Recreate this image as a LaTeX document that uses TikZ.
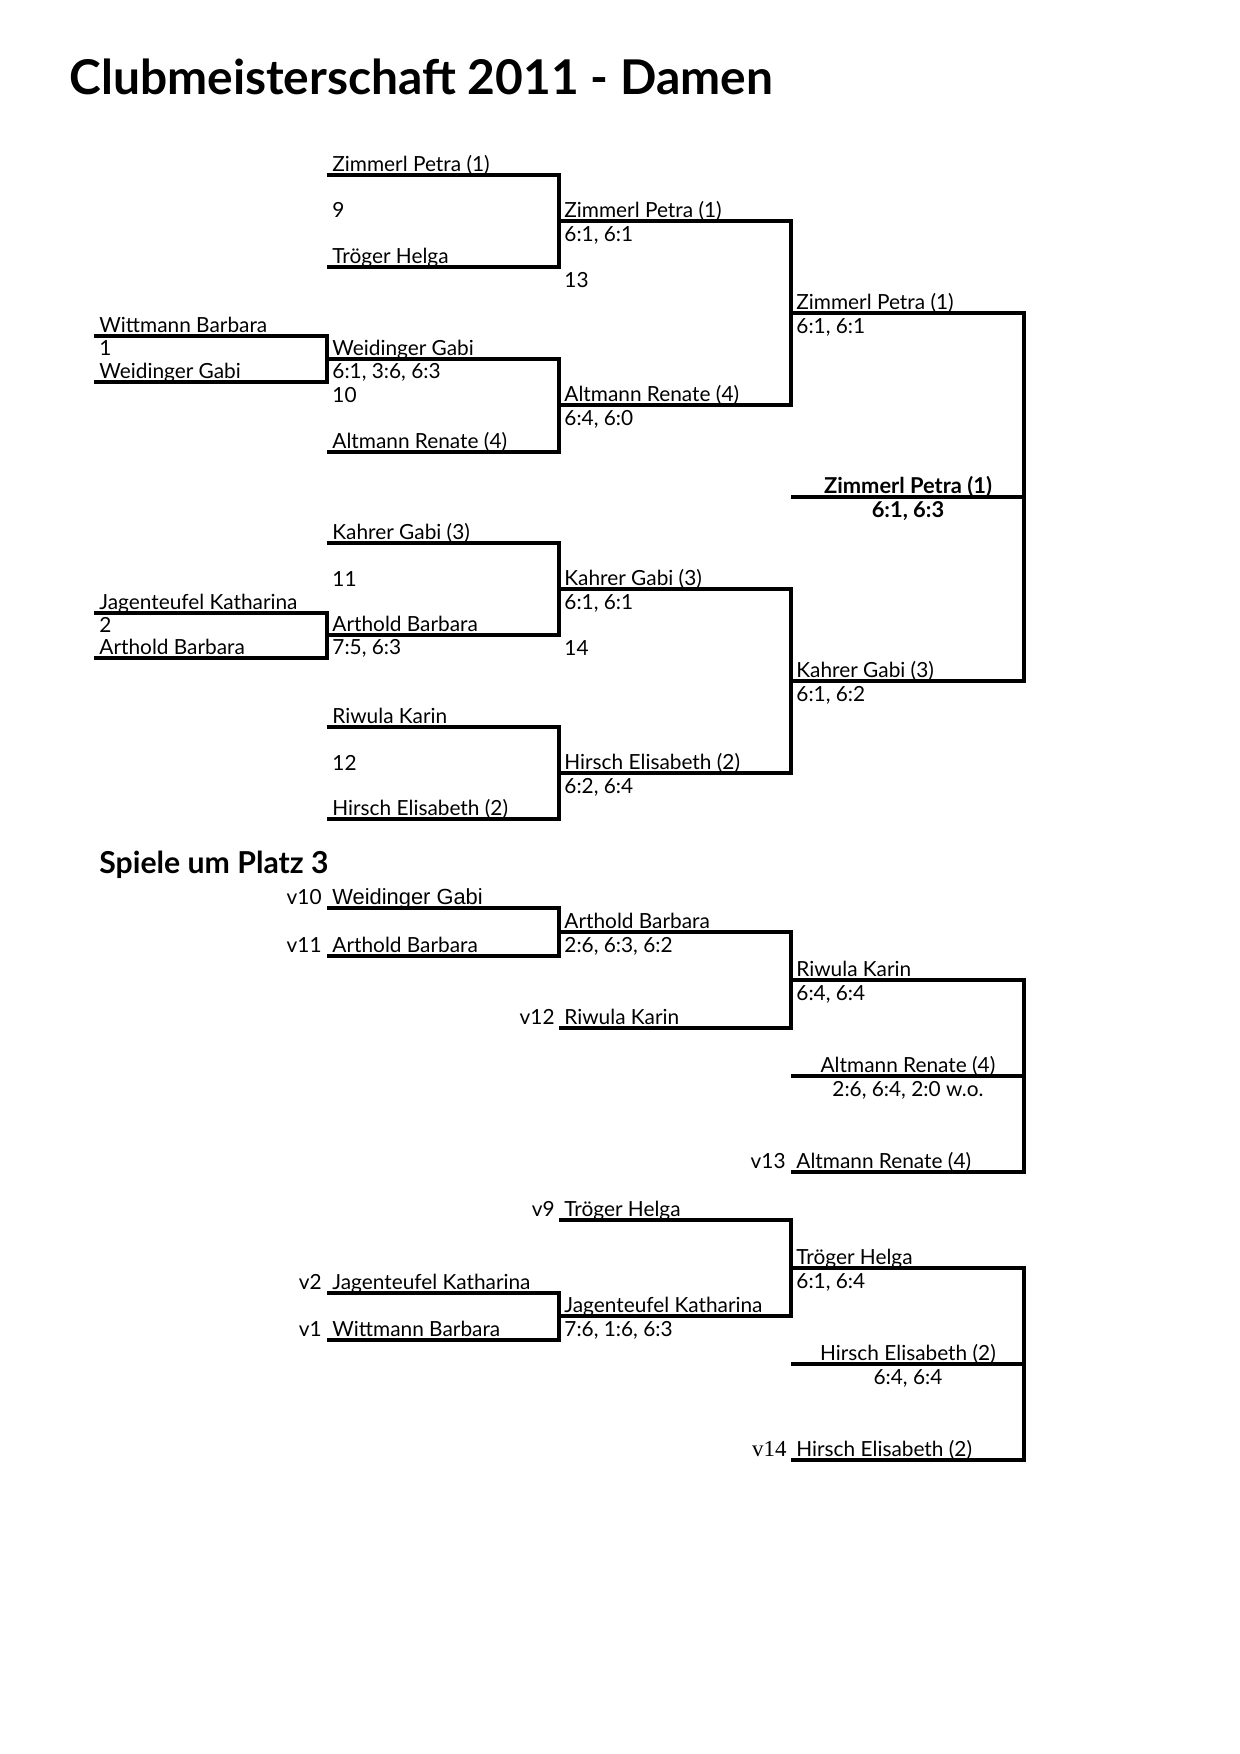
\documentclass[tikz,border=0pt]{standalone}
\usepackage{fontspec}
\setmainfont{Lato}
\newfontfamily\arialfont{Liberation Sans}
\newfontfamily\timesfont{Liberation Serif}
\usetikzlibrary{positioning}
\tikzset{
	bracket/.style ={line width=1.6pt, line join=miter},
	player/.style  ={anchor=base west, inner sep=0pt, font=\fontsize{10}{12}\selectfont},
	result/.style  ={player},
	matchno/.style ={player},
	vlabel/.style  ={anchor=base east, inner sep=0pt, font=\fontsize{10}{12}\selectfont},
	final/.style   ={anchor=base, inner sep=0pt, font=\fontsize{10}{12}\selectfont},
	heading/.style ={anchor=base west, inner sep=0pt, font=\bfseries\fontsize{23}{26}\selectfont},
	subhead/.style ={anchor=base west, inner sep=0pt, font=\bfseries\fontsize{14.5}{16}\selectfont},
}
\begin{document}
\begin{tikzpicture}[x=0.48pt, y=-0.48pt]
	\useasboundingbox (0,0) rectangle (1240,1754);
	\node[heading] (title) at (69,94) {Clubmeisterschaft 2011 - Damen};
	% main draw
	\draw[bracket] (94,336) -- (327,336) -- (327,382) -- (94,382);
	\draw[bracket] (94,613) -- (327,613) -- (327,658) -- (94,658);
	\draw[bracket] (327,175) -- (559,175) -- (559,267) -- (327,267);
	\draw[bracket] (327,359) -- (559,359) -- (559,452) -- (327,452);
	\draw[bracket] (327,543) -- (559,543) -- (559,635) -- (327,635);
	\draw[bracket] (327,727) -- (559,727) -- (559,819) -- (327,819);
	\draw[bracket] (559,221) -- (791,221) -- (791,405) -- (559,405);
	\draw[bracket] (559,589) -- (791,589) -- (791,773) -- (559,773);
	\draw[bracket] (791,313) -- (1024,313) -- (1024,681) -- (791,681);
	\draw[bracket] (791,497) -- (1024,497);
	% first round
	\node[player] (r0a) at (99,332) {Wittmann Barbara};
	\node[matchno] (n1) at (99,355) {1};
	\node[player] (r0b) at (99,378) {Weidinger Gabi};
	\node[player] (r0c) at (99,609) {Jagenteufel Katharina};
	\node[matchno] (n2) at (99,632) {2};
	\node[player] (r0d) at (99,654) {Arthold Barbara};
	% quarter finals
	\node[player] (r1a) at (332,171) {Zimmerl Petra (1)};
	\node[matchno] (n9) at (332,217) {9};
	\node[player] (r1b) at (332,263) {Tröger Helga};
	\node[player] (r1c) at (332,355) {Weidinger Gabi};
	\node[result] (s1) at (332,378) {6:1, 3:6, 6:3};
	\node[matchno] (n10) at (332,402) {10};
	\node[player] (r1d) at (332,448) {Altmann Renate (4)};
	\node[player] (r1e) at (332,539) {Kahrer Gabi (3)};
	\node[matchno] (n11) at (332,586) {11};
	\node[player] (r1f) at (332,631) {Arthold Barbara};
	\node[result] (s2) at (332,654) {7:5, 6:3};
	\node[player] (r1g) at (332,723) {Riwula Karin};
	\node[matchno] (n12) at (332,770) {12};
	\node[player] (r1h) at (332,815) {Hirsch Elisabeth (2)};
	% semi finals
	\node[player] (r2a) at (564,217) {Zimmerl Petra (1)};
	\node[result] (s9) at (564,241) {6:1, 6:1};
	\node[matchno] (n13) at (564,287) {13};
	\node[player] (r2b) at (564,401) {Altmann Renate (4)};
	\node[result] (s10) at (564,425) {6:4, 6:0};
	\node[player] (r2c) at (564,585) {Kahrer Gabi (3)};
	\node[result] (s11) at (564,609) {6:1, 6:1};
	\node[matchno] (n14) at (564,655) {14};
	\node[player] (r2d) at (564,769) {Hirsch Elisabeth (2)};
	\node[result] (s12) at (564,793) {6:2, 6:4};
	% final
	\node[player] (r3a) at (796,309) {Zimmerl Petra (1)};
	\node[result] (s13) at (796,333) {6:1, 6:1};
	\node[player] (r3b) at (796,677) {Kahrer Gabi (3)};
	\node[result] (s14) at (796,701) {6:1, 6:2};
	\node[final, font=\bfseries\fontsize{10.5}{12}\selectfont] (champ) at (908,493) {Zimmerl Petra (1)};
	\node[final, font=\bfseries\fontsize{10.5}{12}\selectfont] (champs) at (908,517) {6:1, 6:3};

	% Spiele um Platz 3
	\node[subhead] (p3) at (99,873) {Spiele um Platz 3};
	\draw[bracket] (327,908) -- (559,908) -- (559,956) -- (327,956);
	\draw[bracket] (559,932) -- (791,932) -- (791,1028) -- (559,1028);
	\draw[bracket] (791,980) -- (1024,980) -- (1024,1172) -- (791,1172);
	\draw[bracket] (791,1076) -- (1024,1076);
	\draw[bracket] (559,1220) -- (791,1220) -- (791,1316) -- (559,1316);
	\draw[bracket] (327,1293) -- (559,1293) -- (559,1340) -- (327,1340);
	\draw[bracket] (791,1268) -- (1024,1268) -- (1024,1460) -- (791,1460);
	\draw[bracket] (791,1364) -- (1024,1364);

	\node[vlabel] (v10) at (322,904) {v10};
	\node[player, font=\arialfont\fontsize{10.5}{12}\selectfont] (q1) at (332,904) {Weidinger Gabi};
	\node[vlabel] (v11) at (322,952) {v11};
	\node[player] (q2) at (332,952) {Arthold Barbara};
	\node[player] (q3) at (564,928) {Arthold Barbara};
	\node[result] (t1) at (564,952) {2:6, 6:3, 6:2};
	\node[vlabel] (v12) at (555,1024) {v12};
	\node[player] (q4) at (564,1024) {Riwula Karin};
	\node[player] (q5) at (796,976) {Riwula Karin};
	\node[result] (t2) at (796,1000) {6:4, 6:4};
	\node[final] (q6) at (908,1072) {Altmann Renate (4)};
	\node[final] (t3) at (908,1096) {2:6, 6:4, 2:0 w.o.};
	\node[vlabel] (v13) at (786,1168) {v13};
	\node[player] (q7) at (796,1168) {Altmann Renate (4)};

	\node[vlabel] (v9) at (555,1216) {v9};
	\node[player] (q8) at (564,1216) {Tröger Helga};
	\node[vlabel] (v2) at (322,1289) {v2};
	\node[player] (q9) at (332,1289) {Jagenteufel Katharina};
	\node[vlabel] (v1) at (322,1336) {v1};
	\node[player] (q10) at (332,1336) {Wittmann Barbara};
	\node[player] (q11) at (564,1312) {Jagenteufel Katharina};
	\node[result] (t4) at (564,1336) {7:6, 1:6, 6:3};
	\node[player] (q12) at (796,1264) {Tröger Helga};
	\node[result] (t5) at (796,1288) {6:1, 6:4};
	\node[final] (q13) at (908,1360) {Hirsch Elisabeth (2)};
	\node[final] (t6) at (908,1384) {6:4, 6:4};
	\node[vlabel, font=\timesfont\fontsize{11}{13}\selectfont] (v14) at (787,1456) {v14};
	\node[player] (q14) at (796,1456) {Hirsch Elisabeth (2)};
\end{tikzpicture}
\end{document}
